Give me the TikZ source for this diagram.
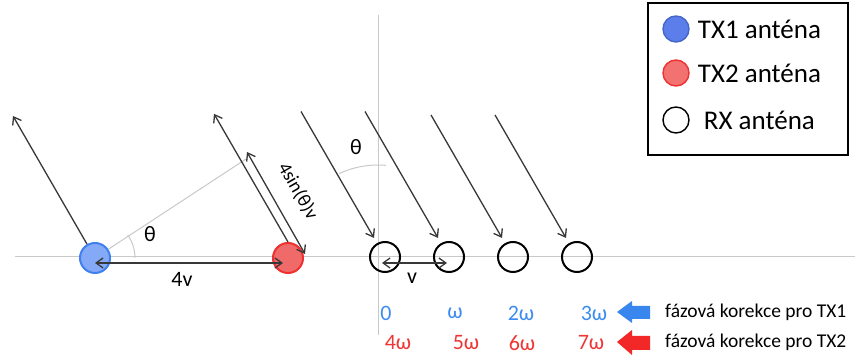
\documentclass[tikz,border=0pt]{standalone}
\usepackage{fontspec}
\setmainfont{Carlito}
\usetikzlibrary{arrows.meta,positioning}
\definecolor{txonefill}{HTML}{84AAF7}
\definecolor{txoneline}{HTML}{3F7FEF}
\definecolor{txtwofill}{HTML}{F06A6A}
\definecolor{txtwoline}{HTML}{EE3030}
\definecolor{legone}{HTML}{5B7EEA}
\definecolor{legoneline}{HTML}{4466C8}
\definecolor{legtwo}{HTML}{F27272}
\definecolor{raygray}{HTML}{383838}
\definecolor{axisgray}{HTML}{C9C9C9}
\definecolor{phblue}{HTML}{3D8CF0}
\definecolor{phred}{HTML}{F03535}
\definecolor{bigblue}{HTML}{3A86EF}
\definecolor{bigred}{HTML}{F22828}
\begin{document}
\begin{tikzpicture}[x=1pt, y=1pt, >={Straight Barb[length=7pt,width=10pt]},
    ray/.style={->, line width=1.3pt, draw=raygray},
    axis/.style={draw=axisgray, line width=1pt},
    ant/.style={circle, minimum size=30pt, inner sep=0pt, line width=2pt},
    lgnd/.style={circle, minimum size=26pt, inner sep=0pt, line width=1.4pt},
    legtext/.style={inner sep=0pt, font=\fontsize{27}{30}\selectfont},
    phase/.style={inner sep=0pt, font=\fontsize{22}{24}\selectfont},
    note/.style={inner sep=0pt, anchor=west, font=\fontsize{19.5}{22}\selectfont},
    lbl/.style={inner sep=0pt, font=\fontsize{22}{24}\selectfont}]
\useasboundingbox (0,0) rectangle (855,358);
% axes
\coordinate (o) at (378,101);
\draw[axis] (15,101) -- (855,101);
\draw[axis] (378,343) -- (378,23);
% antennas
\node[ant, draw=txoneline, fill=txonefill] (tx1) at (95,100) {};
\node[ant, draw=txtwoline, fill=txtwofill] (tx2) at (288,100) {};
\node[ant, draw=black] (rx1) at (385,101) {};
\node[ant, draw=black] (rx2) at (449,101) {};
\node[ant, draw=black] (rx3) at (513,101) {};
\node[ant, draw=black] (rx4) at (577,101) {};
% transmitted rays
\coordinate (foot) at (246,199);
\draw[axis] (tx1) -- (foot);
\draw[ray] (tx1.120) -- ++(120:148);
\draw[ray] (tx2.north) -- ++(120:148);
\coordinate (pa) at (247,206);
\coordinate (pb) at (305,104);
\draw[ray, <->] (pa) -- (pb);
\node[lbl, rotate=-60, font=\fontsize{19}{22}\selectfont] (lsin) at (298,167) {4sin(θ)v};
\draw[axis] ([xshift=40pt]tx1.center) arc (0:35:40);
\node[lbl] (th1) at (150,124) {θ};
\draw[ray, <->] ([yshift=-5pt]tx1.center) -- ([shift={(-5pt,-5pt)}]tx2.center);
\node[lbl] (l4v) at (182,79) {4v};
% received rays
\draw[ray, <-, shorten <=6pt] (rx1.120) -- ++(120:152);
\draw[ray, <-, shorten <=6pt] (rx2.120) -- ++(120:152);
\draw[ray, <-, shorten <=6pt] (rx3.120) -- ++(120:148);
\draw[ray, <-, shorten <=6pt] (rx4.120) -- ++(120:148);
\draw[axis] (o) ++(85:92) arc (85:115:92);
\node[lbl] (th2) at (356,211) {θ};
\draw[ray, <->] ([shift={(-3pt,-6pt)}]rx1.center) -- ([shift={(-2pt,-6pt)}]rx2.center);
\node[lbl] (lv) at (412,80) {v};
% phase corrections
\node[phase, text=phblue] (p0) at (386,45) {0};
\node[phase, text=phblue] (p1) at (455,45) {ω};
\node[phase, text=phblue] (p2) at (521,45) {2ω};
\node[phase, text=phblue] (p3) at (594,45) {3ω};
\node[phase, text=phred] (p4) at (398,15) {4ω};
\node[phase, text=phred] (p5) at (466,15) {5ω};
\node[phase, text=phred] (p6) at (522,15) {6ω};
\node[phase, text=phred] (p7) at (591,15) {7ω};
\fill[bigblue] (617,46) -- (632,57) -- (632,52) -- (650,52) -- (650,39) -- (632,39) -- (632,35) -- cycle;
\fill[bigred] (617,16) -- (632,28) -- (632,22) -- (650,22) -- (650,8) -- (632,8) -- (632,3) -- cycle;
\node[note] (n1) at (665,46) {fázová korekce pro TX1};
\node[note] (n2) at (665,16) {fázová korekce pro TX2};
% legend
\draw[line width=1.4pt] (648,355) rectangle (848,203);
\node[lgnd, draw=legoneline, fill=legone] (g1) at (676,329) {};
\node[lgnd, draw=txtwoline, fill=legtwo] (g2) at (676,285) {};
\node[lgnd, draw=black] (g3) at (676,238) {};
\node[legtext, right=8pt of g1] (t1) {TX1 anténa};
\node[legtext, right=8pt of g2] (t2) {TX2 anténa};
\node[legtext, right=14pt of g3] (t3) {RX anténa};
\end{tikzpicture}
\end{document}
